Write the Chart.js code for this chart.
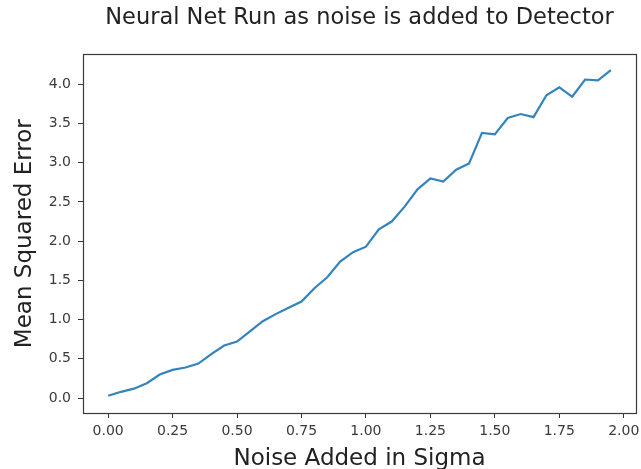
<!DOCTYPE html>
<html>
<head>
<meta charset="utf-8">
<script src="https://cdn.jsdelivr.net/npm/chart.js@4/dist/chart.umd.min.js"></script>
<style>
  html, body { margin: 0; padding: 0; background: #fff; }
  #wrap { width: 641px; height: 469px; position: relative; }
</style>
</head>
<body>
<div id="wrap"><canvas id="noiseChart"></canvas></div>
<script>
// noise added (sigma) and the MSE of the net at each step
const noiseSigma = [0.00, 0.05, 0.10, 0.15, 0.20, 0.25, 0.30, 0.35, 0.40, 0.45,
                    0.50, 0.55, 0.60, 0.65, 0.70, 0.75, 0.80, 0.85, 0.90, 0.95,
                    1.00, 1.05, 1.10, 1.15, 1.20, 1.25, 1.30, 1.35, 1.40, 1.45,
                    1.50, 1.55, 1.60, 1.65, 1.70, 1.75, 1.80, 1.85, 1.90, 1.95];
const meanSqErr = [0.03, 0.08, 0.12, 0.19, 0.30, 0.36, 0.39, 0.44, 0.56, 0.67,
                   0.72, 0.85, 0.98, 1.07, 1.15, 1.23, 1.40, 1.54, 1.74, 1.86,
                   1.93, 2.15, 2.25, 2.44, 2.66, 2.80, 2.76, 2.91, 2.99, 3.38,
                   3.36, 3.57, 3.62, 3.58, 3.86, 3.96, 3.84, 4.06, 4.05, 4.18];
const xTicks = [0, 0.25, 0.5, 0.75, 1.0, 1.25, 1.5, 1.75, 2.0];
const yTicks = [0, 0.5, 1.0, 1.5, 2.0, 2.5, 3.0, 3.5, 4.0];

const FONT = "'DejaVu Sans', sans-serif";
const INK = '#3a3a3a';

// matplotlib style box round the axes
const frameBox = {
  id: 'frameBox',
  afterDatasetsDraw(chart) {
    const { ctx, chartArea: { left, right, top, bottom } } = chart;
    ctx.save();
    ctx.strokeStyle = INK;
    ctx.lineWidth = 1.2;
    ctx.strokeRect(Math.round(left) + 0.5, Math.round(top) + 0.5,
                   Math.round(right - left), Math.round(bottom - top));
    ctx.restore();
  }
};

const points = noiseSigma.map((x, i) => ({ x: x, y: meanSqErr[i] }));

new Chart(document.getElementById('noiseChart'), {
  type: 'line',
  data: {
    datasets: [{
      data: points,
      borderColor: '#3384bd',
      borderWidth: 2.2,
      pointRadius: 0,
      tension: 0,
      fill: false
    }]
  },
  options: {
    responsive: true,
    maintainAspectRatio: false,
    animation: false,
    layout: { padding: { left: 0, right: 5, top: 0, bottom: 0 } },
    plugins: {
      legend: { display: false },
      tooltip: { enabled: false },
      title: {
        display: true,
        fullSize: false,
        text: 'Neural Net Run as noise is added to Detector',
        color: '#222',
        font: { family: FONT, size: 22.5, weight: 'normal' },
        padding: { top: 5, bottom: 22.4 }
      }
    },
    scales: {
      x: {
        type: 'linear',
        min: -0.0975,
        max: 2.0475,
        afterBuildTicks(scale) { scale.ticks = xTicks.map(v => ({ value: v })); },
        afterFit(scale) {
          scale.height = 56;
          scale.paddingLeft = 0;
          scale.paddingRight = 0;
        },
        grid: { display: true, drawOnChartArea: false, drawTicks: true, tickLength: 5, tickColor: INK },
        border: { display: false },
        ticks: {
          color: INK,
          padding: 5,
          maxRotation: 0,
          font: { family: FONT, size: 14 },
          callback: v => v.toFixed(2)
        },
        title: {
          display: true,
          text: 'Noise Added in Sigma',
          color: '#222',
          font: { family: FONT, size: 23, lineHeight: 0.9 },
          padding: { top: 0, bottom: 0 }
        }
      },
      y: {
        type: 'linear',
        min: -0.19,
        max: 4.38,
        afterBuildTicks(scale) { scale.ticks = yTicks.map(v => ({ value: v })); },
        afterFit(scale) { scale.width = 83; },
        grid: { display: true, drawOnChartArea: false, drawTicks: true, tickLength: 5, tickColor: INK },
        border: { display: false },
        ticks: {
          color: INK,
          padding: 7,
          font: { family: FONT, size: 14 },
          callback: v => v.toFixed(1)
        },
        title: {
          display: true,
          text: 'Mean Squared Error',
          color: '#222',
          font: { family: FONT, size: 23 },
          padding: { top: 11, bottom: 0 }
        }
      }
    }
  },
  plugins: [frameBox]
});
</script>
</body>
</html>
